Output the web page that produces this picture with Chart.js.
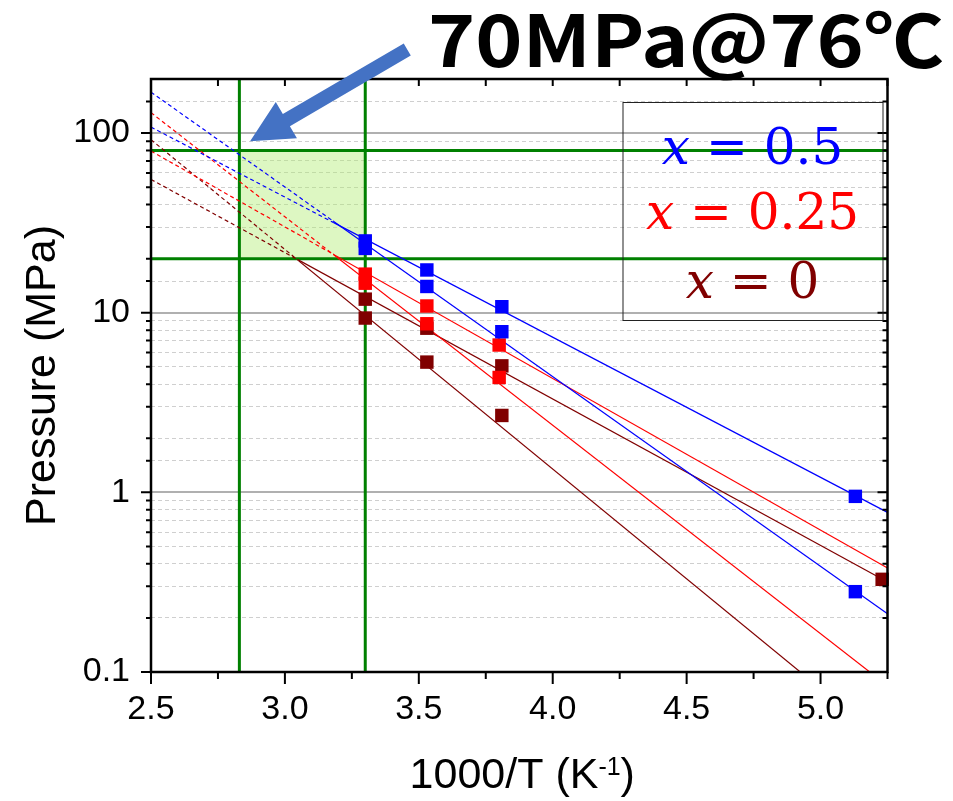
<!DOCTYPE html>
<html>
<head>
<meta charset="utf-8">
<script src="https://cdn.jsdelivr.net/npm/chart.js@4/dist/chart.umd.min.js"></script>
<style>
  html, body { margin: 0; padding: 0; background: #fff; }
  #wrap { width: 953px; height: 801px; position: relative; }
</style>
</head>
<body>
<div id="wrap"><canvas id="myChart"></canvas></div>
<script>
// 1000/T (K^-1) of the measured points
const xHigh = [3.30, 3.53, 3.81, 5.13];
const xMid = [3.30, 3.53, 3.80];
const xLowA = [3.30, 3.53, 3.81, 5.23];
const xLowB = [3.30, 3.53, 3.81];

// pressures (MPa), two branches per composition
const p05a = [25.1, 17.3, 10.8, 0.95];
const p05b = [22.8, 14.0, 7.84, 0.28];
const p025a = [16.4, 10.9, 6.61];
const p025b = [14.6, 8.68, 4.36];
const p0a = [11.9, 8.2, 5.06, 0.328];
const p0b = [9.34, 5.31, 2.68];

// van't Hoff fits: pressure at the two ends of the axis
const fitX = [2.5, 5.25];
const fit05a = [108, 0.774];
const fit05b = [169, 0.211];
const fit025a = [79.4, 0.379];
const fit025b = [130, 0.0838];
const fit0a = [55.2, 0.317];
const fit0b = [91.9, 0.040];
// fits are extrapolated (dashed) below these 1000/T values
const extrapTo = [3.18, 3.18, 3.05];

// target window
const targetX = [2.83, 3.30];
const targetP = [20, 80];

const xRange = [2.5, 5.25];
const pRange = [0.1, 200];
const compositions = ["0.5", "0.25", "0"];

const BLUE = "#0000ff", RED = "#ff0000", DARK = "#800000", GREEN = "#008000";
const SANS = "'Liberation Sans', Arial, sans-serif";

const pts = (xs, ys) => xs.map((x, i) => ({ x: x, y: ys[i] }));
const isDecade = (v) => Math.abs(Math.log10(v) - Math.round(Math.log10(v))) < 1e-6;

function markers(xs, ys, color) {
  return {
    data: pts(xs, ys), showLine: false, pointStyle: "rect", pointRadius: 9.5,
    backgroundColor: color, borderWidth: 0, order: 0, clip: false,
  };
}

function fit(ys, color, cut, dashed) {
  return {
    data: pts(fitX, ys), borderColor: color, borderWidth: 1.2,
    borderDash: dashed ? [4, 3] : [], pointRadius: 0, fill: false,
    order: 1, cut: cut, dashed: dashed,
  };
}

function guide(data) {
  return { data: data, borderColor: GREEN, borderWidth: 3, pointRadius: 0, fill: false, order: 2 };
}

const datasets = [
  markers(xHigh, p05a, BLUE),
  markers(xHigh, p05b, BLUE),
  markers(xMid, p025a, RED),
  markers(xMid, p025b, RED),
  markers(xLowA, p0a, DARK),
  markers(xLowB, p0b, DARK),
];
[[fit05a, BLUE, 0], [fit05b, BLUE, 0], [fit025a, RED, 1], [fit025b, RED, 1], [fit0a, DARK, 2], [fit0b, DARK, 2]]
  .forEach(([ys, c, k]) => {
    datasets.push(fit(ys, c, extrapTo[k], true));
    datasets.push(fit(ys, c, extrapTo[k], false));
  });
targetX.forEach((x) => datasets.push(guide([{ x: x, y: pRange[0] }, { x: x, y: pRange[1] }])));
targetP.forEach((p) => datasets.push(guide([{ x: xRange[0], y: p }, { x: xRange[1], y: p }])));
datasets.push({
  data: [{ x: targetX[0], y: targetP[1] }, { x: targetX[1], y: targetP[1] }],
  fill: { value: targetP[0] }, backgroundColor: "rgba(175, 235, 110, 0.42)",
  borderWidth: 0, pointRadius: 0, order: 3,
});

// dashed copy left of the cut, solid copy right of it
const splitClip = {
  id: "splitClip",
  beforeDatasetDraw(chart, args) {
    const ds = chart.data.datasets[args.index];
    if (ds.cut === undefined) return;
    const a = chart.chartArea;
    const xc = chart.scales.x.getPixelForValue(ds.cut);
    const ctx = chart.ctx;
    ctx.save();
    ctx.beginPath();
    if (ds.dashed) ctx.rect(a.left, a.top, xc - a.left, a.bottom - a.top);
    else ctx.rect(xc, a.top, a.right - xc, a.bottom - a.top);
    ctx.clip();
  },
  afterDatasetDraw(chart, args) {
    if (chart.data.datasets[args.index].cut !== undefined) chart.ctx.restore();
  },
};

// box frame with ticks on all four sides
const frame = {
  id: "frame",
  afterDatasetsDraw(chart) {
    const { ctx, chartArea: a, scales: { x, y } } = chart;
    ctx.save();
    ctx.strokeStyle = "#000";
    ctx.lineWidth = 2;
    ctx.beginPath();
    y.ticks.forEach((t) => {
      if (t.value >= pRange[1]) return;
      const py = y.getPixelForValue(t.value);
      const len = isDecade(t.value) ? 10 : 5;
      ctx.moveTo(a.left - len, py); ctx.lineTo(a.left, py);
      ctx.moveTo(a.right, py); ctx.lineTo(a.right - len, py);
    });
    x.ticks.forEach((t) => {
      const px = x.getPixelForValue(t.value);
      const major = Math.round(t.value * 4) % 2 === 0;
      ctx.moveTo(px, a.bottom); ctx.lineTo(px, a.bottom + (major ? 12 : 7));
      ctx.moveTo(px, a.top); ctx.lineTo(px, a.top + 7);
    });
    ctx.stroke();
    ctx.lineWidth = 2.5;
    ctx.strokeRect(a.left, a.top, a.right - a.left, a.bottom - a.top);
    ctx.restore();
  },
};

// headline, arrow, legend box and x title
const notes = {
  id: "notes",
  afterDraw(chart) {
    const { ctx, chartArea: a, scales: { x, y } } = chart;
    ctx.save();

    // headline, stretched a little to the wide gothic look
    ctx.fillStyle = "#000";
    ctx.font = "bold 72px 'Noto Sans CJK JP', sans-serif";
    ctx.textBaseline = "alphabetic";
    ctx.textAlign = "left";
    const head = "70MPa@76℃";
    const hw0 = ctx.measureText(head).width;
    ctx.save();
    ctx.translate(428, 67);
    ctx.scale(516 / hw0, 1);
    ctx.fillText(head, 0, 0);
    ctx.restore();

    // arrow pointing at the upper-left corner of the window
    const tipX = x.getPixelForValue(2.87), tipY = y.getPixelForValue(90);
    const ux = 0.8636, uy = -0.5044, len = 182, hl = 42, hw = 21, sw = 7;
    const nx = -uy, ny = ux;
    const bx = tipX + ux * hl, by = tipY + uy * hl;
    const ex = tipX + ux * len, ey = tipY + uy * len;
    ctx.fillStyle = "#4472c4";
    ctx.beginPath();
    ctx.moveTo(tipX, tipY);
    ctx.lineTo(bx + nx * hw, by + ny * hw);
    ctx.lineTo(bx + nx * sw, by + ny * sw);
    ctx.lineTo(ex + nx * sw, ey + ny * sw);
    ctx.lineTo(ex - nx * sw, ey - ny * sw);
    ctx.lineTo(bx - nx * sw, by - ny * sw);
    ctx.lineTo(bx - nx * hw, by - ny * hw);
    ctx.closePath();
    ctx.fill();

    // legend
    const lx = a.right - 265, ly = a.top + 23, lw = 260, lh = 218;
    ctx.strokeStyle = "#222";
    ctx.lineWidth = 1;
    ctx.strokeRect(lx + 0.5, ly + 0.5, lw, lh);
    const cx = lx + lw / 2;
    const rows = [62, 127, 196];
    [BLUE, RED, DARK].forEach((c, i) => {
      const it = "italic 50px 'DejaVu Serif', serif";
      const rm = "50px 'DejaVu Serif', serif";
      const rest = " = " + compositions[i];
      ctx.font = it;
      const w1 = ctx.measureText("x").width;
      ctx.font = rm;
      const w2 = ctx.measureText(rest).width;
      const sx = cx - (w1 + w2) / 2;
      ctx.fillStyle = c;
      ctx.font = it;
      ctx.fillText("x", sx, ly + rows[i]);
      ctx.font = rm;
      ctx.fillText(rest, sx + w1, ly + rows[i]);
    });

    // x axis title with superscript
    const main = "1000/T (K", sup = "-1", close = ")";
    const base = 788;
    ctx.fillStyle = "#000";
    ctx.font = "43px " + SANS;
    const wm = ctx.measureText(main).width, wc = ctx.measureText(close).width;
    ctx.font = "25px " + SANS;
    const ws = ctx.measureText(sup).width;
    const tx = (a.left + a.right) / 2 + 3 - (wm + ws + wc) / 2;
    ctx.font = "43px " + SANS;
    ctx.fillText(main, tx, base);
    ctx.font = "25px " + SANS;
    ctx.fillText(sup, tx + wm, base - 13);
    ctx.font = "43px " + SANS;
    ctx.fillText(close, tx + wm + ws, base);

    ctx.restore();
  },
};

const config = {
  type: "line",
  data: { datasets: datasets },
  options: {
    responsive: true,
    maintainAspectRatio: false,
    animation: false,
    events: [],
    layout: { padding: { top: 79, right: 65.5, bottom: 0, left: 0 } },
    plugins: { legend: { display: false }, tooltip: { enabled: false } },
    scales: {
      x: {
        type: "linear",
        min: xRange[0],
        max: xRange[1],
        afterFit: (s) => { s.height = 129; },
        grid: { display: false, drawTicks: false },
        border: { display: false },
        ticks: {
          stepSize: 0.25,
          autoSkip: false,
          maxRotation: 0,
          padding: 17,
          color: "#000",
          font: { family: SANS, size: 34 },
          callback: (v) => (Math.round(v * 4) % 2 === 0 ? v.toFixed(1) : ""),
        },
      },
      y: {
        type: "logarithmic",
        min: pRange[0],
        max: pRange[1],
        afterFit: (s) => { s.width = 151; },
        border: {
          display: false,
          dash: (c) => (c.tick && !isDecade(c.tick.value) ? [4, 3] : []),
        },
        grid: {
          drawTicks: false,
          color: (c) => (isDecade(c.tick.value) ? "#b0b0b0" : "#cfcfcf"),
          lineWidth: (c) => (isDecade(c.tick.value) ? 2 : 1),
        },
        ticks: {
          autoSkip: false,
          padding: 21,
          color: "#000",
          font: { family: SANS, size: 34 },
          callback: (v) => (isDecade(v) ? String(v) : ""),
        },
        title: {
          display: true,
          text: "Pressure (MPa)",
          color: "#000",
          font: { family: SANS, size: 43 },
          padding: { top: 17, bottom: 0 },
        },
      },
    },
  },
  plugins: [splitClip, frame, notes],
};

const myChart = new Chart(document.getElementById("myChart"), config);
</script>
</body>
</html>
